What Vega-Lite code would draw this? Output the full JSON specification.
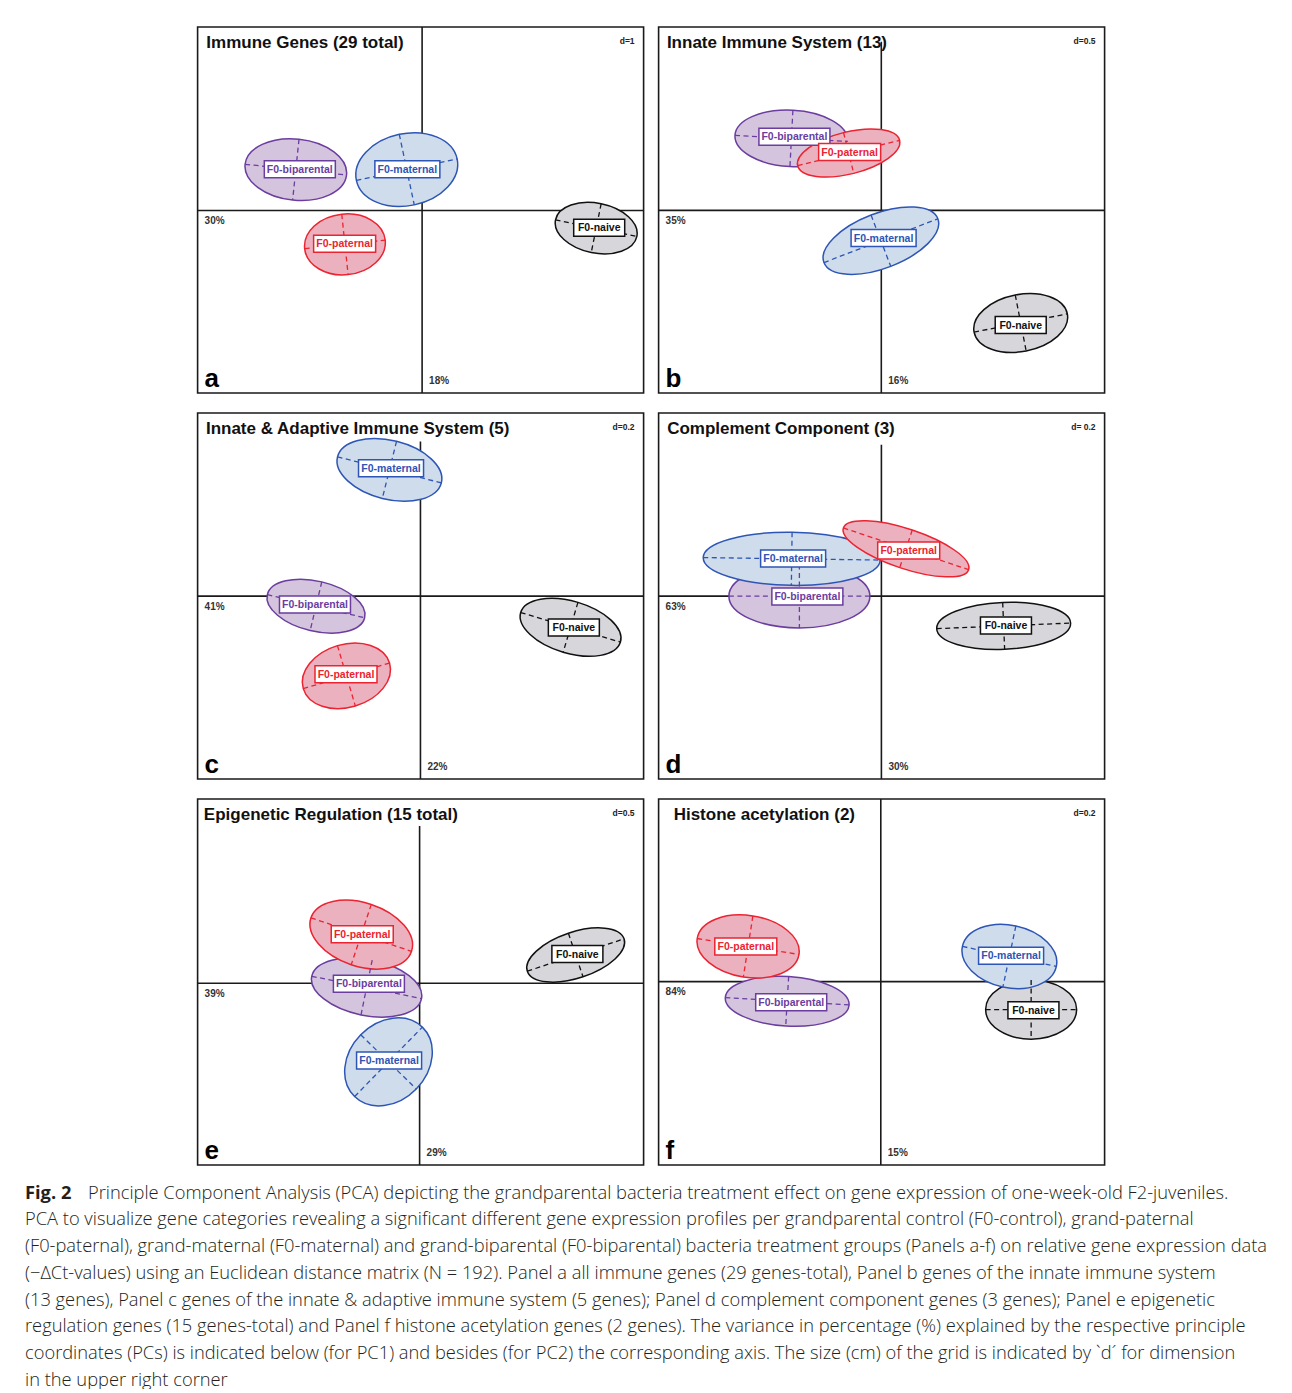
{
  "$schema": "https://vega.github.io/schema/vega-lite/v6.json",
  "padding": {"left": 25, "top": 26, "right": 0, "bottom": 0},
  "background": "white",
  "config": {
    "view": {"stroke": null},
    "font": "Liberation Sans",
    "header": {"labels": false, "title": null, "labelFontSize": 0, "labelPadding": 0, "labelExpr": "''"},
    "headerFacet": {"labels": false, "title": null, "labelFontSize": 0, "labelPadding": 0, "labelExpr": "''"}
  },
  "datasets": {
    "pca": [
      {"kind": "panel", "panel": "a", "xmin": -2.24, "xmax": 2.21, "ymin": -1.83, "ymax": 1.84, "vtop": 1.84, "tx": -2.153, "title": "Immune Genes (29 total)", "dlab": "d=1", "pc1": "18%", "pc2": "30%", "letter": "a"},
      {"kind": "panel", "panel": "b", "xmin": -2.23, "xmax": 2.236, "ymin": -1.826, "ymax": 1.834, "vtop": 1.687, "tx": -2.147, "title": "Innate Immune System (13)", "dlab": "d=0.5", "pc1": "16%", "pc2": "35%", "letter": "b"},
      {"kind": "panel", "panel": "c", "xmin": -2.227, "xmax": 2.23, "ymin": -1.82, "ymax": 1.823, "vtop": 1.54, "tx": -2.144, "title": "Innate & Adaptive Immune System (5)", "dlab": "d=0.2", "pc1": "22%", "pc2": "41%", "letter": "c"},
      {"kind": "panel", "panel": "d", "xmin": -2.236, "xmax": 2.24, "ymin": -1.827, "ymax": 1.83, "vtop": 1.513, "tx": -2.15, "title": "Complement Component (3)", "dlab": "d= 0.2", "pc1": "30%", "pc2": "63%", "letter": "d"},
      {"kind": "panel", "panel": "e", "xmin": -2.233, "xmax": 2.253, "ymin": -1.833, "ymax": 1.857, "vtop": 1.584, "tx": -2.17, "title": "Epigenetic Regulation (15 total)", "dlab": "d=0.5", "pc1": "29%", "pc2": "39%", "letter": "e"},
      {"kind": "panel", "panel": "f", "xmin": -2.217, "xmax": 2.233, "ymin": -1.84, "ymax": 1.833, "vtop": 1.833, "tx": -2.067, "title": "Histone acetylation (2)", "dlab": "d=0.2", "pc1": "15%", "pc2": "84%", "letter": "f"},

      {"kind": "ell", "panel": "a", "group": "F0-naive", "x": 1.737, "y": -0.177, "major": 0.83, "ratio": 0.6, "angle": 11.5, "lx": 1.767, "ly": -0.173},
      {"kind": "ell", "panel": "a", "group": "F0-biparental", "x": -1.26, "y": 0.41, "major": 1.02, "ratio": 0.6, "angle": 6, "lx": -1.22, "ly": 0.413},
      {"kind": "ell", "panel": "a", "group": "F0-maternal", "x": -0.153, "y": 0.41, "major": 1.03, "ratio": 0.7, "angle": -12, "lx": -0.147, "ly": 0.413},
      {"kind": "ell", "panel": "a", "group": "F0-paternal", "x": -0.77, "y": -0.34, "major": 0.81, "ratio": 0.75, "angle": -6, "lx": -0.773, "ly": -0.333},

      {"kind": "ell", "panel": "b", "group": "F0-naive", "x": 1.396, "y": -1.126, "major": 0.95, "ratio": 0.6, "angle": -11, "lx": 1.396, "ly": -1.146},
      {"kind": "ell", "panel": "b", "group": "F0-biparental", "x": -0.9, "y": 0.72, "major": 1.13, "ratio": 0.5, "angle": 3, "lx": -0.87, "ly": 0.737},
      {"kind": "ell", "panel": "b", "group": "F0-maternal", "x": -0.004, "y": -0.303, "major": 1.22, "ratio": 0.45, "angle": -21, "lx": 0.023, "ly": -0.276},
      {"kind": "ell", "panel": "b", "group": "F0-paternal", "x": -0.327, "y": 0.574, "major": 1.05, "ratio": 0.4, "angle": -14, "lx": -0.317, "ly": 0.584},

      {"kind": "ell", "panel": "c", "group": "F0-naive", "x": 1.5, "y": -0.31, "major": 1.04, "ratio": 0.5, "angle": 16.5, "lx": 1.533, "ly": -0.313},
      {"kind": "ell", "panel": "c", "group": "F0-biparental", "x": -1.044, "y": -0.1, "major": 1.0, "ratio": 0.5, "angle": 13.4, "lx": -1.054, "ly": -0.083},
      {"kind": "ell", "panel": "c", "group": "F0-maternal", "x": -0.31, "y": 1.257, "major": 1.07, "ratio": 0.55, "angle": 14, "lx": -0.294, "ly": 1.273},
      {"kind": "ell", "panel": "c", "group": "F0-paternal", "x": -0.74, "y": -0.793, "major": 0.9, "ratio": 0.7, "angle": -16.5, "lx": -0.744, "ly": -0.777},

      {"kind": "ell", "panel": "d", "group": "F0-naive", "x": 1.227, "y": -0.297, "major": 1.34, "ratio": 0.35, "angle": -2.4, "lx": 1.25, "ly": -0.293},
      {"kind": "ell", "panel": "d", "group": "F0-biparental", "x": -0.823, "y": 0.0, "major": 1.41, "ratio": 0.45, "angle": 0, "lx": -0.743, "ly": -0.003},
      {"kind": "ell", "panel": "d", "group": "F0-maternal", "x": -0.9, "y": 0.373, "major": 1.77, "ratio": 0.3, "angle": 0.8, "lx": -0.886, "ly": 0.377},
      {"kind": "ell", "panel": "d", "group": "F0-paternal", "x": 0.247, "y": 0.473, "major": 1.32, "ratio": 0.3, "angle": 18.4, "lx": 0.274, "ly": 0.457},

      {"kind": "ell", "panel": "e", "group": "F0-naive", "x": 1.57, "y": 0.284, "major": 1.02, "ratio": 0.45, "angle": -18.5, "lx": 1.587, "ly": 0.294},
      {"kind": "ell", "panel": "e", "group": "F0-biparental", "x": -0.533, "y": -0.043, "major": 1.12, "ratio": 0.5, "angle": 11.5, "lx": -0.51, "ly": -0.006},
      {"kind": "ell", "panel": "e", "group": "F0-maternal", "x": -0.313, "y": -0.793, "major": 0.97, "ratio": 0.8, "angle": -45.7, "lx": -0.307, "ly": -0.78},
      {"kind": "ell", "panel": "e", "group": "F0-paternal", "x": -0.587, "y": 0.49, "major": 1.06, "ratio": 0.6, "angle": 18.4, "lx": -0.577, "ly": 0.494},

      {"kind": "ell", "panel": "f", "group": "F0-naive", "x": 1.5, "y": -0.28, "major": 0.91, "ratio": 0.65, "angle": 0, "lx": 1.523, "ly": -0.287},
      {"kind": "ell", "panel": "f", "group": "F0-biparental", "x": -0.934, "y": -0.197, "major": 1.24, "ratio": 0.4, "angle": 3.4, "lx": -0.894, "ly": -0.207},
      {"kind": "ell", "panel": "f", "group": "F0-maternal", "x": 1.283, "y": 0.253, "major": 0.96, "ratio": 0.65, "angle": 12, "lx": 1.3, "ly": 0.26},
      {"kind": "ell", "panel": "f", "group": "F0-paternal", "x": -1.324, "y": 0.353, "major": 1.03, "ratio": 0.6, "angle": 8.9, "lx": -1.347, "ly": 0.353}
    ],
    "caption": [
      {"line": 1, "seg": "head", "text": "Fig. 2"},
      {"line": 1, "seg": "tail", "text": "Principle Component Analysis (PCA) depicting the grandparental bacteria treatment effect on gene expression of one-week-old F2-juveniles."},
      {"line": 2, "seg": "body", "text": "PCA to visualize gene categories revealing a significant different gene expression profiles per grandparental control (F0-control), grand-paternal"},
      {"line": 3, "seg": "body", "text": "(F0-paternal), grand-maternal (F0-maternal) and grand-biparental (F0-biparental) bacteria treatment groups (Panels a-f) on relative gene expression data"},
      {"line": 4, "seg": "body", "text": "(−ΔCt-values) using an Euclidean distance matrix (N = 192). Panel a all immune genes (29 genes-total), Panel b genes of the innate immune system"},
      {"line": 5, "seg": "body", "text": "(13 genes), Panel c genes of the innate & adaptive immune system (5 genes); Panel d complement component genes (3 genes); Panel e epigenetic"},
      {"line": 6, "seg": "body", "text": "regulation genes (15 genes-total) and Panel f histone acetylation genes (2 genes). The variance in percentage (%) explained by the respective principle"},
      {"line": 7, "seg": "body", "text": "coordinates (PCs) is indicated below (for PC1) and besides (for PC2) the corresponding axis. The size (cm) of the grid is indicated by `d´ for dimension"},
      {"line": 8, "seg": "body", "text": "in the upper right corner"}
    ]
  },
  "spacing": 6,
  "center": true,
  "vconcat": [
    {
      "data": {"name": "pca"},
      "facet": {"field": "panel", "type": "nominal", "header": {"labels": false, "title": null, "labelFontSize": 0, "labelPadding": 0, "labelExpr": "''"}},
      "columns": 2,
      "spacing": {"row": 18, "column": 13},
      "resolve": {"scale": {"x": "independent", "y": "independent"}},
      "spec": {
        "width": 446,
        "height": 366,
        "resolve": {"scale": {"shape": "independent"}},
        "layer": [
          {
            "transform": [{"filter": "datum.kind === 'panel'"}],
            "mark": {"type": "rect", "filled": false, "stroke": "#1a1a1a", "strokeWidth": 1.6},
            "encoding": {
              "x": {"field": "xmin", "type": "quantitative", "scale": {"nice": false, "zero": false, "padding": 0}, "axis": null},
              "x2": {"field": "xmax"},
              "y": {"field": "ymin", "type": "quantitative", "scale": {"nice": false, "zero": false, "padding": 0}, "axis": null},
              "y2": {"field": "ymax"}
            }
          },
          {
            "transform": [{"filter": "datum.kind === 'panel'"}],
            "mark": {"type": "rule", "stroke": "#1a1a1a", "strokeWidth": 1.6},
            "encoding": {
              "x": {"field": "xmin", "type": "quantitative", "scale": {"nice": false, "zero": false, "padding": 0}, "axis": null},
              "x2": {"field": "xmax"},
              "y": {"datum": 0, "type": "quantitative", "scale": {"nice": false, "zero": false, "padding": 0}, "axis": null}
            }
          },
          {
            "transform": [{"filter": "datum.kind === 'panel'"}],
            "mark": {"type": "rule", "stroke": "#1a1a1a", "strokeWidth": 1.6},
            "encoding": {
              "x": {"datum": 0, "type": "quantitative", "scale": {"nice": false, "zero": false, "padding": 0}, "axis": null},
              "y": {"field": "vtop", "type": "quantitative", "scale": {"nice": false, "zero": false, "padding": 0}, "axis": null},
              "y2": {"field": "ymin"}
            }
          },
          {
            "transform": [{"filter": "datum.kind === 'panel'"}],
            "mark": {"type": "text", "align": "left", "baseline": "alphabetic", "dy": 21, "font": "Liberation Sans", "fontSize": 17, "fontWeight": "bold", "fill": "#111111"},
            "encoding": {
              "x": {"field": "tx", "type": "quantitative", "scale": {"nice": false, "zero": false, "padding": 0}, "axis": null},
              "y": {"field": "ymax", "type": "quantitative", "scale": {"nice": false, "zero": false, "padding": 0}, "axis": null},
              "text": {"field": "title"}
            }
          },
          {
            "transform": [{"filter": "datum.kind === 'panel'"}],
            "mark": {"type": "text", "align": "right", "baseline": "middle", "dx": -9, "dy": 13.5, "font": "Liberation Sans", "fontSize": 8.5, "fontWeight": "bold", "fill": "#222222"},
            "encoding": {
              "x": {"field": "xmax", "type": "quantitative", "scale": {"nice": false, "zero": false, "padding": 0}, "axis": null},
              "y": {"field": "ymax", "type": "quantitative", "scale": {"nice": false, "zero": false, "padding": 0}, "axis": null},
              "text": {"field": "dlab"}
            }
          },
          {
            "transform": [{"filter": "datum.kind === 'panel'"}],
            "mark": {"type": "text", "align": "left", "baseline": "middle", "dx": 7, "dy": 10.5, "font": "Liberation Sans", "fontSize": 10, "fontWeight": "bold", "fill": "#333333"},
            "encoding": {
              "x": {"field": "xmin", "type": "quantitative", "scale": {"nice": false, "zero": false, "padding": 0}, "axis": null},
              "y": {"datum": 0, "type": "quantitative", "scale": {"nice": false, "zero": false, "padding": 0}, "axis": null},
              "text": {"field": "pc2"}
            }
          },
          {
            "transform": [{"filter": "datum.kind === 'panel'"}],
            "mark": {"type": "text", "align": "left", "baseline": "middle", "dx": 7, "dy": -12, "font": "Liberation Sans", "fontSize": 10, "fontWeight": "bold", "fill": "#333333"},
            "encoding": {
              "x": {"datum": 0, "type": "quantitative", "scale": {"nice": false, "zero": false, "padding": 0}, "axis": null},
              "y": {"field": "ymin", "type": "quantitative", "scale": {"nice": false, "zero": false, "padding": 0}, "axis": null},
              "text": {"field": "pc1"}
            }
          },
          {
            "transform": [{"filter": "datum.kind === 'panel'"}],
            "mark": {"type": "text", "align": "left", "baseline": "alphabetic", "dx": 7, "dy": -6, "font": "Liberation Sans", "fontSize": 26, "fontWeight": "bold", "fill": "#000000"},
            "encoding": {
              "x": {"field": "xmin", "type": "quantitative", "scale": {"nice": false, "zero": false, "padding": 0}, "axis": null},
              "y": {"field": "ymin", "type": "quantitative", "scale": {"nice": false, "zero": false, "padding": 0}, "axis": null},
              "text": {"field": "letter"}
            }
          },
          {
            "transform": [{"filter": "datum.kind === 'ell'"}],
            "mark": {"type": "point", "filled": true, "opacity": 1, "strokeOpacity": 1, "fillOpacity": 1, "strokeWidth": 1.5},
            "encoding": {
              "x": {"field": "x", "type": "quantitative", "scale": {"nice": false, "zero": false, "padding": 0}, "axis": null},
              "y": {"field": "y", "type": "quantitative", "scale": {"nice": false, "zero": false, "padding": 0}, "axis": null},
              "shape": {"field": "ratio", "type": "nominal", "legend": null, "scale": {
                "domain": [0.3, 0.35, 0.4, 0.45, 0.5, 0.55, 0.6, 0.65, 0.7, 0.75, 0.8],
                "range": [
                  "M -1 0 C -1 -0.1657 -0.5523 -0.3 0 -0.3 C 0.5523 -0.3 1 -0.1657 1 0 C 1 0.1657 0.5523 0.3 0 0.3 C -0.5523 0.3 -1 0.1657 -1 0 Z",
                  "M -1 0 C -1 -0.1933 -0.5523 -0.35 0 -0.35 C 0.5523 -0.35 1 -0.1933 1 0 C 1 0.1933 0.5523 0.35 0 0.35 C -0.5523 0.35 -1 0.1933 -1 0 Z",
                  "M -1 0 C -1 -0.2209 -0.5523 -0.4 0 -0.4 C 0.5523 -0.4 1 -0.2209 1 0 C 1 0.2209 0.5523 0.4 0 0.4 C -0.5523 0.4 -1 0.2209 -1 0 Z",
                  "M -1 0 C -1 -0.2485 -0.5523 -0.45 0 -0.45 C 0.5523 -0.45 1 -0.2485 1 0 C 1 0.2485 0.5523 0.45 0 0.45 C -0.5523 0.45 -1 0.2485 -1 0 Z",
                  "M -1 0 C -1 -0.2762 -0.5523 -0.5 0 -0.5 C 0.5523 -0.5 1 -0.2762 1 0 C 1 0.2762 0.5523 0.5 0 0.5 C -0.5523 0.5 -1 0.2762 -1 0 Z",
                  "M -1 0 C -1 -0.3038 -0.5523 -0.55 0 -0.55 C 0.5523 -0.55 1 -0.3038 1 0 C 1 0.3038 0.5523 0.55 0 0.55 C -0.5523 0.55 -1 0.3038 -1 0 Z",
                  "M -1 0 C -1 -0.3314 -0.5523 -0.6 0 -0.6 C 0.5523 -0.6 1 -0.3314 1 0 C 1 0.3314 0.5523 0.6 0 0.6 C -0.5523 0.6 -1 0.3314 -1 0 Z",
                  "M -1 0 C -1 -0.359 -0.5523 -0.65 0 -0.65 C 0.5523 -0.65 1 -0.359 1 0 C 1 0.359 0.5523 0.65 0 0.65 C -0.5523 0.65 -1 0.359 -1 0 Z",
                  "M -1 0 C -1 -0.3866 -0.5523 -0.7 0 -0.7 C 0.5523 -0.7 1 -0.3866 1 0 C 1 0.3866 0.5523 0.7 0 0.7 C -0.5523 0.7 -1 0.3866 -1 0 Z",
                  "M -1 0 C -1 -0.4142 -0.5523 -0.75 0 -0.75 C 0.5523 -0.75 1 -0.4142 1 0 C 1 0.4142 0.5523 0.75 0 0.75 C -0.5523 0.75 -1 0.4142 -1 0 Z",
                  "M -1 0 C -1 -0.4418 -0.5523 -0.8 0 -0.8 C 0.5523 -0.8 1 -0.4418 1 0 C 1 0.4418 0.5523 0.8 0 0.8 C -0.5523 0.8 -1 0.4418 -1 0 Z"
                ]}},
              "size": {"field": "major", "type": "quantitative", "legend": null, "scale": {"type": "pow", "exponent": 2, "domain": [0, 2], "range": [0, 40000]}},
              "angle": {"field": "angle", "type": "quantitative", "scale": null},
              "fill": {"field": "group", "type": "nominal", "legend": null, "scale": {"domain": ["F0-naive", "F0-biparental", "F0-maternal", "F0-paternal"], "range": ["#d7d6da", "#d5c4dd", "#cfdcec", "#ecb1be"]}},
              "stroke": {"field": "group", "type": "nominal", "legend": null, "scale": {"domain": ["F0-naive", "F0-biparental", "F0-maternal", "F0-paternal"], "range": ["#111111", "#6a3d9f", "#2d55b5", "#ec2330"]}}
            }
          },
          {
            "transform": [{"filter": "datum.kind === 'ell'"}],
            "mark": {"type": "point", "filled": false, "opacity": 1, "strokeOpacity": 1, "strokeWidth": 1.3, "strokeDash": [5, 3.5]},
            "encoding": {
              "x": {"field": "x", "type": "quantitative", "scale": {"nice": false, "zero": false, "padding": 0}, "axis": null},
              "y": {"field": "y", "type": "quantitative", "scale": {"nice": false, "zero": false, "padding": 0}, "axis": null},
              "shape": {"field": "ratio", "type": "nominal", "legend": null, "scale": {
                "domain": [0.3, 0.35, 0.4, 0.45, 0.5, 0.55, 0.6, 0.65, 0.7, 0.75, 0.8],
                "range": [
                  "M -1 0 L 1 0 M 0 -0.3 L 0 0.3",
                  "M -1 0 L 1 0 M 0 -0.35 L 0 0.35",
                  "M -1 0 L 1 0 M 0 -0.4 L 0 0.4",
                  "M -1 0 L 1 0 M 0 -0.45 L 0 0.45",
                  "M -1 0 L 1 0 M 0 -0.5 L 0 0.5",
                  "M -1 0 L 1 0 M 0 -0.55 L 0 0.55",
                  "M -1 0 L 1 0 M 0 -0.6 L 0 0.6",
                  "M -1 0 L 1 0 M 0 -0.65 L 0 0.65",
                  "M -1 0 L 1 0 M 0 -0.7 L 0 0.7",
                  "M -1 0 L 1 0 M 0 -0.75 L 0 0.75",
                  "M -1 0 L 1 0 M 0 -0.8 L 0 0.8"
                ]}},
              "size": {"field": "major", "type": "quantitative", "legend": null, "scale": {"type": "pow", "exponent": 2, "domain": [0, 2], "range": [0, 40000]}},
              "angle": {"field": "angle", "type": "quantitative", "scale": null},
              "stroke": {"field": "group", "type": "nominal", "legend": null, "scale": {"domain": ["F0-naive", "F0-biparental", "F0-maternal", "F0-paternal"], "range": ["#111111", "#6a3d9f", "#2d55b5", "#ec2330"]}}
            }
          },
          {
            "transform": [{"filter": "datum.kind === 'ell'"}],
            "mark": {"type": "point", "filled": true, "fill": "#ffffff", "opacity": 1, "fillOpacity": 1, "strokeOpacity": 1, "strokeWidth": 1.5, "size": 10000},
            "encoding": {
              "x": {"field": "lx", "type": "quantitative", "scale": {"nice": false, "zero": false, "padding": 0}, "axis": null},
              "y": {"field": "ly", "type": "quantitative", "scale": {"nice": false, "zero": false, "padding": 0}, "axis": null},
              "shape": {"field": "group", "type": "nominal", "legend": null, "scale": {
                "domain": ["F0-naive", "F0-biparental", "F0-maternal", "F0-paternal"],
                "range": [
                  "M -0.51 -0.17 L 0.51 -0.17 L 0.51 0.17 L -0.51 0.17 Z",
                  "M -0.71 -0.17 L 0.71 -0.17 L 0.71 0.17 L -0.71 0.17 Z",
                  "M -0.65 -0.17 L 0.65 -0.17 L 0.65 0.17 L -0.65 0.17 Z",
                  "M -0.62 -0.17 L 0.62 -0.17 L 0.62 0.17 L -0.62 0.17 Z"
                ]}},
              "stroke": {"field": "group", "type": "nominal", "legend": null, "scale": {"domain": ["F0-naive", "F0-biparental", "F0-maternal", "F0-paternal"], "range": ["#111111", "#6a3d9f", "#2d55b5", "#ec2330"]}}
            }
          },
          {
            "transform": [{"filter": "datum.kind === 'ell'"}],
            "mark": {"type": "text", "align": "center", "baseline": "middle", "dy": 0.5, "font": "Liberation Sans", "fontSize": 10.5, "fontWeight": "bold"},
            "encoding": {
              "x": {"field": "lx", "type": "quantitative", "scale": {"nice": false, "zero": false, "padding": 0}, "axis": null},
              "y": {"field": "ly", "type": "quantitative", "scale": {"nice": false, "zero": false, "padding": 0}, "axis": null},
              "text": {"field": "group"},
              "color": {"field": "group", "type": "nominal", "legend": null, "scale": {"domain": ["F0-naive", "F0-biparental", "F0-maternal", "F0-paternal"], "range": ["#111111", "#6a3d9f", "#2d55b5", "#ec2330"]}}
            }
          }
        ]
      }
    },
    {
      "data": {"name": "caption"},
      "width": 1253,
      "height": 213.6,
      "layer": [
        {
          "transform": [{"filter": "datum.seg === 'head'"}],
          "mark": {"type": "text", "align": "left", "baseline": "alphabetic", "font": "Open Sans", "fontSize": 18.3, "fontWeight": "bold", "fill": "#231f20"},
          "encoding": {
            "x": {"value": 0},
            "y": {"field": "line", "type": "quantitative", "scale": {"domain": [0, 8], "reverse": true, "nice": false, "zero": false}, "axis": null},
            "text": {"field": "text"}
          }
        },
        {
          "transform": [{"filter": "datum.seg === 'tail'"}],
          "mark": {"type": "text", "align": "left", "baseline": "alphabetic", "dx": 63, "font": "Open Sans", "fontSize": 18.3, "fontWeight": 300, "fill": "#231f20"},
          "encoding": {
            "x": {"value": 0},
            "y": {"field": "line", "type": "quantitative", "scale": {"domain": [0, 8], "reverse": true, "nice": false, "zero": false}, "axis": null},
            "text": {"field": "text"}
          }
        },
        {
          "transform": [{"filter": "datum.seg === 'body'"}],
          "mark": {"type": "text", "align": "left", "baseline": "alphabetic", "font": "Open Sans", "fontSize": 18.3, "fontWeight": 300, "fill": "#231f20"},
          "encoding": {
            "x": {"value": 0},
            "y": {"field": "line", "type": "quantitative", "scale": {"domain": [0, 8], "reverse": true, "nice": false, "zero": false}, "axis": null},
            "text": {"field": "text"}
          }
        }
      ]
    }
  ]
}
